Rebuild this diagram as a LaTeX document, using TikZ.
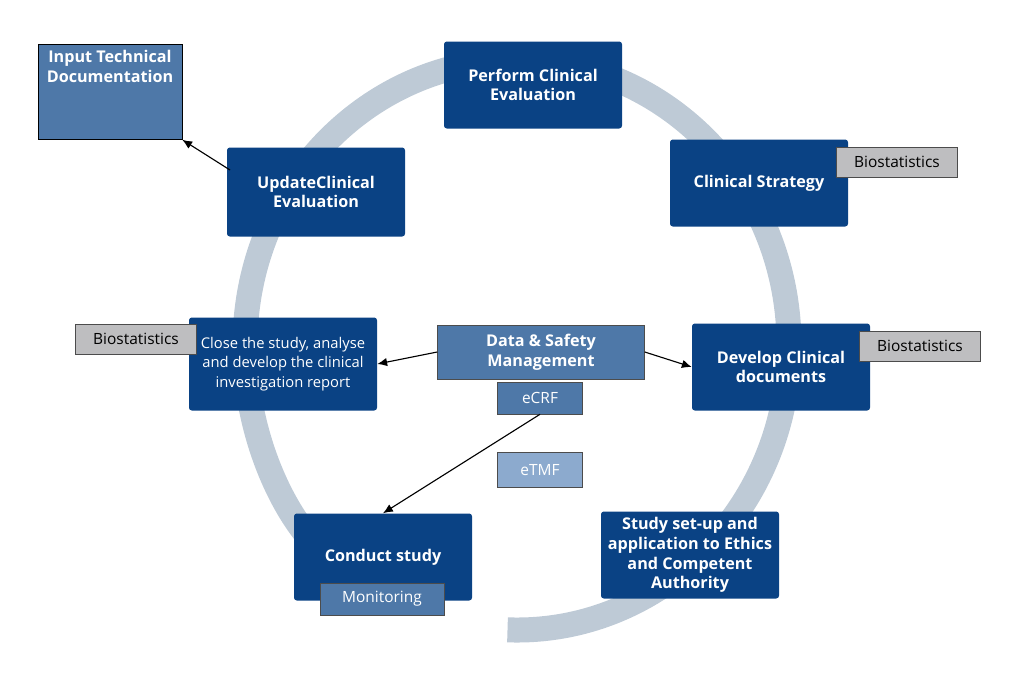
\documentclass[tikz,border=0pt]{standalone}
\usepackage{fontspec}
\setmainfont{Open Sans}
\usetikzlibrary{arrows.meta}
\definecolor{darkblue}{RGB}{10,66,132}
\definecolor{midblue}{RGB}{78,120,168}
\definecolor{lightblue}{RGB}{140,170,206}
\definecolor{ringgrey}{RGB}{190,202,214}
\definecolor{boxgrey}{RGB}{190,190,192}
\begin{document}
\begin{tikzpicture}[
        x=0.025cm, y=-0.025cm, % координаты в пикселях
        stage/.style={rounded corners=2pt, fill=darkblue, text=white, align=center, font=\fontsize{11.5}{14}\selectfont\bfseries, minimum width=178*0.025cm, minimum height=87*0.025cm, inner sep=2pt},
        tag/.style={draw=black!70, fill=boxgrey, text=black, font=\fontsize{11}{13}\selectfont, minimum width=121*0.025cm, minimum height=30*0.025cm, inner sep=1pt},
        tool/.style={draw=black!70, fill=midblue, text=white, font=\fontsize{11}{13}\selectfont, minimum width=85*0.025cm, minimum height=32*0.025cm, inner sep=1pt},
        link/.style={draw, thick, -{Latex[length=7pt,width=6pt]}},
    ]
    \useasboundingbox (0,0) rectangle (1024,672);

    % кольцо со стрелкой
    \draw[ringgrey, line width=25*0.025cm, -{Triangle[length=48*0.025cm, width=60*0.025cm]}]
        (517,345) ++(92:272 and 285) arc[start angle=92, end angle=-237, x radius=272, y radius=285];

    % этапы
    \node[stage] (perform) at (533,85) {Perform Clinical\\Evaluation};
    \node[stage] (strategy) at (759,183) {Clinical Strategy};
    \node[stage] (develop) at (781,367) {Develop Clinical\\documents};
    \node[stage] (setup) at (690,555) {Study set-up and\\application to Ethics\\and Competent\\Authority};
    \node[stage] (conduct) at (383,557) {Conduct study};
    \node[stage, minimum width=188*0.025cm, minimum height=93*0.025cm, font=\fontsize{10.5}{14}\selectfont] (close) at (283,364) {Close the study, analyse\\and develop the clinical\\investigation report};
    \node[stage, minimum height=89*0.025cm] (update) at (316,192) {UpdateClinical\\Evaluation};
    \node[draw=black, fill=midblue, text=white, align=center, font=\fontsize{11.5}{14}\selectfont\bfseries, minimum width=144*0.025cm, minimum height=95*0.025cm, inner sep=2pt] (input) at (110,92) {Input Technical\\Documentation\\[0.8cm]};

    % метки
    \node[tag] (bio1) at (897,162) {Biostatistics};
    \node[tag] (bio2) at (920,346) {Biostatistics};
    \node[tag] (bio3) at (136,339) {Biostatistics};
    \node[tool, minimum width=124*0.025cm] (monitoring) at (382,599) {Monitoring};

    % данные
    \node[tool, minimum width=207*0.025cm, minimum height=54*0.025cm, font=\fontsize{11.5}{14}\selectfont\bfseries, align=center] (dsm) at (541,352) {Data \& Safety\\Management};
    \node[tool] (ecrf) at (540,398) {eCRF};
    \node[tool, fill=lightblue, minimum height=35*0.025cm] (etmf) at (540,470) {eTMF};

    % связи
    \coordinate (u) at (230,170);
    \draw[link] (dsm.west) -- (close.east);
    \draw[link] (dsm.east) -- (develop.west);
    \draw[link] (ecrf.south) -- (conduct.north);
    \draw[link] (u) -- (input.south east);
\end{tikzpicture}
\end{document}
